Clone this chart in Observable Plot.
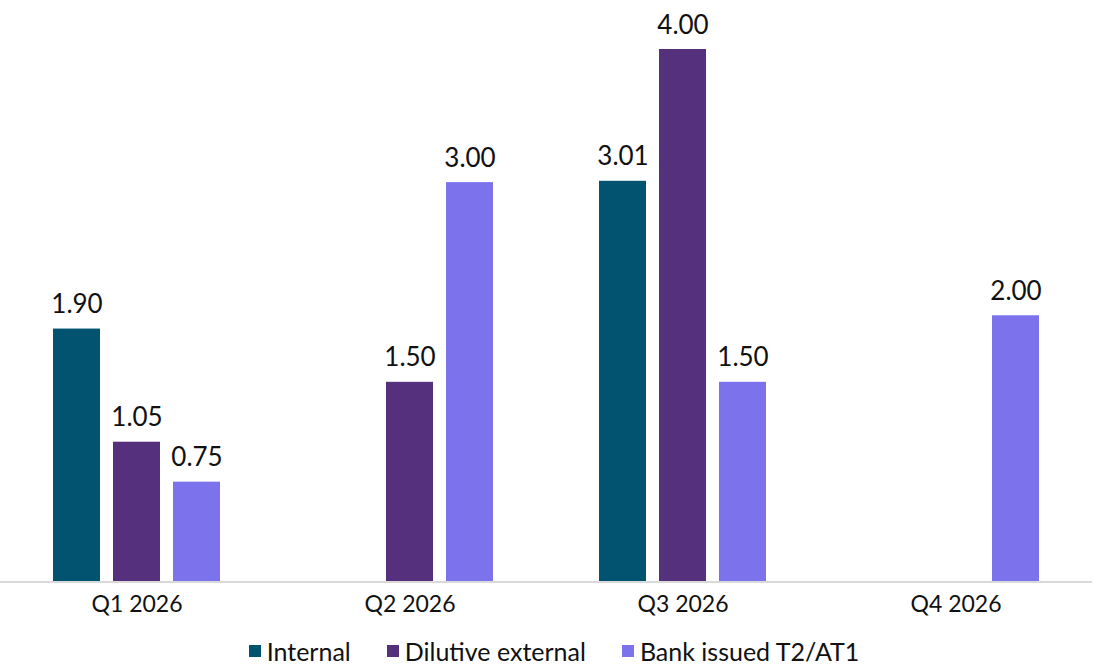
<!DOCTYPE html>
<html>
<head>
<meta charset="utf-8">
<script src="https://cdn.jsdelivr.net/npm/d3@7"></script>
<script src="https://cdn.jsdelivr.net/npm/@observablehq/plot@0.6"></script>
<style>
  html, body { margin: 0; padding: 0; background: #fff; }
  body { width: 1094px; font-family: Lato, "Open Sans", sans-serif; }
  #legend { display: flex; justify-content: center; align-items: center; height: 41px; font-size: 25px; color: #111; gap: 36px; padding-left: 14px; }
  .item { display: flex; align-items: center; }
  .sw { width: 12px; height: 12px; margin-right: 6px; display: inline-block; }
</style>
</head>
<body>
<div id="chart"></div>
<div id="legend"></div>
<script>
const quarters = ["Q1 2026", "Q2 2026", "Q3 2026", "Q4 2026"];
const seriesNames = ["Internal", "Dilutive external", "Bank issued T2/AT1"];
const colors = ["#02536f", "#55307c", "#7b72ec"];
// values per series, per quarter (null = no bar)
const internal = [1.90, null, 3.01, null];
const dilutive = [1.05, 1.50, 4.00, null];
const bank = [0.75, 3.00, 1.50, 2.00];

const seriesValues = [internal, dilutive, bank];
const data = [];
quarters.forEach((q, qi) => {
  seriesNames.forEach((s, si) => {
    const v = seriesValues[si][qi];
    if (v != null) data.push({quarter: q, series: s, value: v});
  });
});

const chart = Plot.plot({
  width: 1094,
  height: 630,
  marginTop: 49,
  marginBottom: 48.5,
  marginLeft: 0,
  marginRight: 2,
  style: {fontFamily: "Lato, 'Open Sans', sans-serif", background: "#fff"},
  fx: {domain: quarters, padding: 0, label: null},
  x: {domain: seriesNames, paddingInner: 0.217, paddingOuter: 0.883, axis: null},
  y: {domain: [0, 4], axis: null},
  color: {domain: seriesNames, range: colors},
  marks: [
    Plot.barY(data, {fx: "quarter", x: "series", y: "value", fill: "series"}),
    Plot.ruleY([0], {stroke: "#d9d9d9", strokeWidth: 2}),
    Plot.text(data, {fx: "quarter", x: "series", y: "value", text: d => d.value.toFixed(2),
      lineAnchor: "bottom", dy: -16, fontSize: 26, fill: "#111"}),
    Plot.axisFx({tickSize: 0, tickPadding: 14, fontSize: 23, label: null, anchor: "bottom", color: "#111"})
  ]
});
document.getElementById("chart").appendChild(chart);

const legend = document.getElementById("legend");
seriesNames.forEach((s, i) => {
  const item = document.createElement("div");
  item.className = "item";
  const sw = document.createElement("span");
  sw.className = "sw";
  sw.style.background = colors[i];
  item.appendChild(sw);
  item.appendChild(document.createTextNode(s));
  legend.appendChild(item);
});
</script>
</body>
</html>
